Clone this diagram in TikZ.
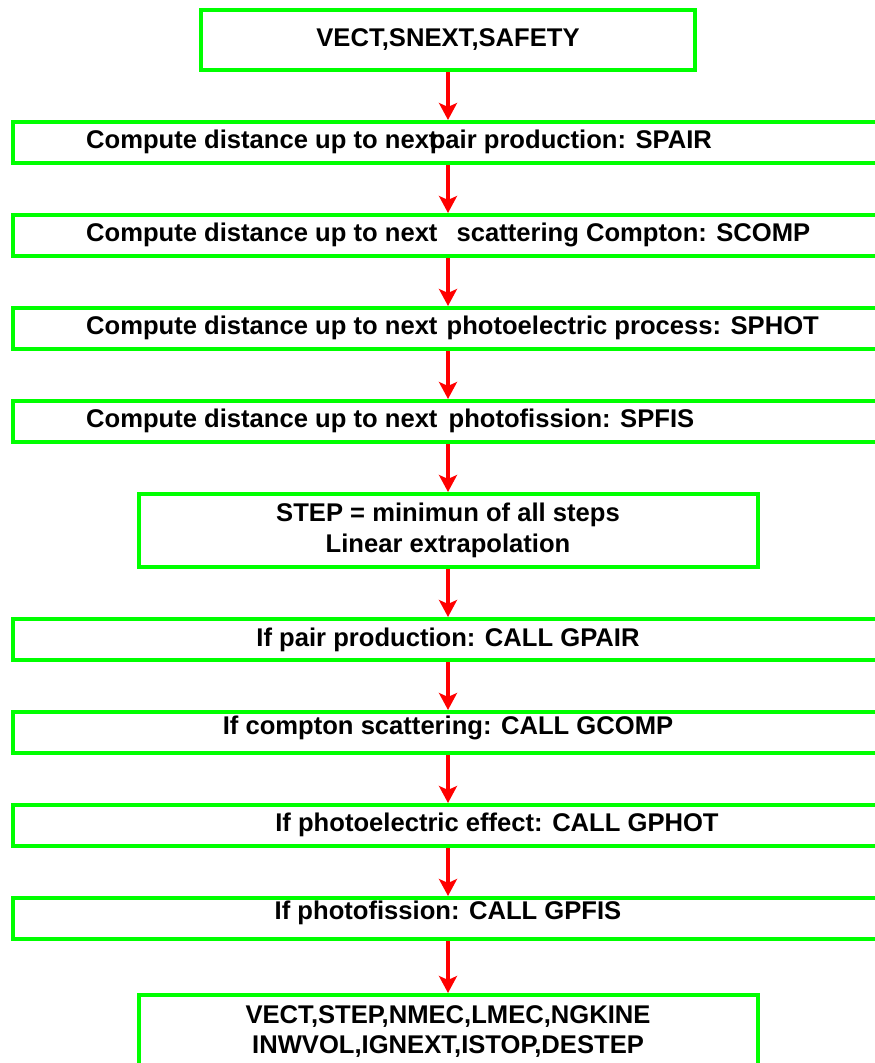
\documentclass[tikz,border=0pt]{standalone}
\usepackage{fontspec}
\setmainfont{Liberation Sans}
\usepackage{tikz}
\usetikzlibrary{positioning, arrows.meta}
\definecolor{boxgreen}{HTML}{00FF00}
\definecolor{arrowred}{HTML}{FF0000}

\begin{document}
\begin{tikzpicture}[
  x=1pt, y=1pt,
  font=\fontsize{25.6}{30.5}\selectfont\bfseries,
  node distance=48pt,
  box/.style={rectangle, draw=boxgreen, line width=4pt, fill=white, inner sep=0pt,
    minimum height=41pt},
  topbox/.style={box, minimum width=494pt, minimum height=60pt},
  midbox/.style={box, minimum width=619pt, minimum height=73pt, align=center},
  wide/.style={box, minimum width=870pt},
  lbl/.style={inner sep=0pt, text height=18.3pt, text depth=0pt},
  arr/.style={-{Stealth[length=17pt, width=18pt, inset=4pt]}, arrowred, line width=4pt}
]
\useasboundingbox (0,0) rectangle (875,-1063);

\node[topbox] (vect) at (448,-40) {VECT,SNEXT,SAFETY};
\node[wide, below=of vect] (spair) {};
\node[wide, below=of spair] (scomp) {};
\node[wide, below=of scomp] (sphot) {};
\node[wide, below=of sphot] (spfis) {};
\node[midbox, below=of spfis] (step) {STEP = minimun of all steps\\Linear extrapolation};
\node[wide, below=of step] (gpair) {};
\node[wide, below=of gpair] (gcomp) {};
\node[wide, below=of gcomp] (gphot) {};
\node[wide, below=of gphot] (gpfis) {};
\node[midbox, below=52pt of gpfis] (result) {VECT,STEP,NMEC,LMEC,NGKINE\\INWVOL,IGNEXT,ISTOP,DESTEP};

% texts of the wide boxes
\node[lbl, right=75pt of spair.west, yshift=3pt] (spairtxt) {Compute distance up to next\kern-0.3em pair production: SPAIR};
\node[lbl, right=75pt of scomp.west, yshift=3pt] (scomptxt) {Compute distance up to next\hspace{12pt} scattering Compton: SCOMP};
\node[lbl, right=75pt of sphot.west, yshift=3pt] (sphottxt) {Compute distance up to next\hspace{2pt} photoelectric process: SPHOT};
\node[lbl, right=75pt of spfis.west, yshift=3pt] (spfistxt) {Compute distance up to next\hspace{4pt} photofission: SPFIS};
\node[lbl, yshift=2pt] (gpairtxt) at (gpair) {If pair production: CALL GPAIR};
\node[lbl, yshift=7pt] (gcomptxt) at (gcomp) {If compton scattering: CALL GCOMP};
\node[lbl, xshift=49pt, yshift=3pt] (gphottxt) at (gphot) {If photoelectric effect: CALL GPHOT};
\node[lbl, yshift=8pt] (gpfistxt) at (gpfis) {If photofission: CALL GPFIS};

\draw[arr] (vect) -- (spair);
\draw[arr] (spair) -- (scomp);
\draw[arr] (scomp) -- (sphot);
\draw[arr] (sphot) -- (spfis);
\draw[arr] (spfis) -- (step);
\draw[arr] (step) -- (gpair);
\draw[arr] (gpair) -- (gcomp);
\draw[arr] (gcomp) -- (gphot);
\draw[arr] (gphot) -- (gpfis);
\draw[arr] (gpfis) -- (result);
\end{tikzpicture}
\end{document}
